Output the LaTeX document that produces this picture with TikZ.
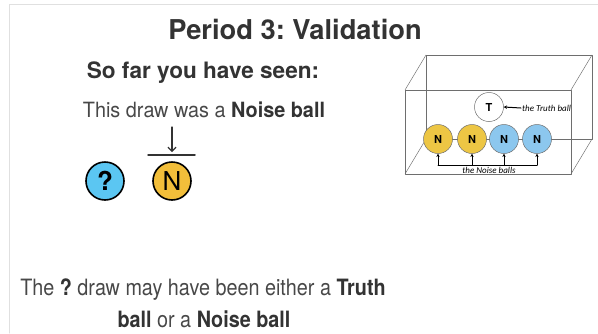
\documentclass[tikz,border=0pt]{standalone}
\usepackage{fontspec}
\setmainfont{TeX Gyre Heros}
\newfontfamily\labelfont{Carlito}
\usetikzlibrary{arrows.meta,positioning}
\frenchspacing
\definecolor{ink}{HTML}{333333}
\definecolor{lightink}{HTML}{484848}
\definecolor{qblue}{HTML}{5BC6F2}
\definecolor{ngold}{HTML}{F2BE3A}
\definecolor{nyellow}{HTML}{EDC644}
\definecolor{nblue}{HTML}{8CC7EE}
\definecolor{wiregray}{HTML}{6E6E6E}
\definecolor{framegray}{HTML}{E0E0E0}
\tikzset{
    every picture/.style={line cap=round,line join=round},
    bigball/.style={draw=black,circle,line width=1.6pt,minimum size=38pt,
      inner sep=0pt,font=\fontsize{26}{26}\selectfont},
    smallball/.style={draw=wiregray,circle,line width=0.5pt,minimum size=29pt,
      inner sep=0pt,font=\bfseries\fontsize{11}{11}\selectfont},
    boxlabel/.style={font=\labelfont\itshape\fontsize{9}{9}\selectfont,
      text=black,inner sep=1pt},
    wire/.style={draw=wiregray,line width=0.5pt},
    pointer/.style={-{Stealth[length=3.2pt,width=3.4pt]},line width=1pt},
    bodytext/.style={text=lightink,inner sep=0pt,anchor=base}
}
\begin{document}
\begin{tikzpicture}[x=1pt,y=-1pt]
  \useasboundingbox (0,0) rectangle (598,333);
  \draw[framegray,line width=1pt] (9,333) |- (598,4);
  % headings
  \node[bodytext,text=ink,font=\bfseries\fontsize{27.3}{28}\selectfont]
    (title) at (295,39) {Period 3: Validation};
  \node[bodytext,text=ink,font=\bfseries\fontsize{22.6}{23}\selectfont]
    (seen) at (203,78) {So far you have seen:};
  \node[bodytext,font=\fontsize{21}{22}\selectfont]
    (draw) at (204,117) {\scalebox{0.945}[1]{This draw was a \textbf{\color{ink}Noise ball}}};
  % the two draws
  \node[bigball,fill=qblue,font=\bfseries\fontsize{26}{26}\selectfont] (qball) at (105,181) {?};
  \node[bigball,fill=ngold] (nball) at (172,181) {N};
  \coordinate (arrtop) at (172,127);
  \coordinate (barL) at (148,155);
  \coordinate (barR) at (195,155);
  \draw[ink,line width=1.5pt] (barL) -- (barR);
  \draw[ink,line width=1.2pt,-{Straight Barb[length=4pt,width=8pt]},shorten >=3pt]
    (arrtop) -- (arrtop |- barL);
  % the box of balls
  \coordinate (fa) at (405,90);  \coordinate (fb) at (571,90);
  \coordinate (fc) at (571,174); \coordinate (fd) at (405,174);
  \coordinate (ba) at (426,55);  \coordinate (bb) at (592,55);
  \coordinate (bc) at (592,139); \coordinate (bd) at (426,139);
  \draw[wire] (ba) -- (bb) -- (bc) -- (bd) -- cycle;
  \draw[wire] (fa) -- (fb) -- (fc) -- (fd) -- cycle;
  \draw[wire] (fa) -- (ba) (fb) -- (bb) (fc) -- (bc) (fd) -- (bd);
  \node[smallball,fill=nyellow] (n1) at (438,139) {N};
  \node[smallball,fill=nyellow] (n2) at (472,139) {N};
  \node[smallball,fill=nblue] (n3) at (504,139) {N};
  \node[smallball,fill=nblue] (n4) at (537,139) {N};
  \node[smallball,fill=white] (tball) at (489,107) {T};
  \node[boxlabel,anchor=west] (tlabel) at (521,108) {the Truth ball};
  \draw[pointer] (tlabel.west) -- (tball.east);
  \coordinate (noisebar) at (488,165);
  \draw[line width=1pt] (n1 |- noisebar) -- (n4 |- noisebar);
  \foreach \b in {n1,n2,n3,n4}
    \draw[pointer] (\b |- noisebar) -- (\b.south);
  \node[boxlabel] (nlabel) at (489,170) {the Noise balls};
  % the question
  \node[bodytext,font=\fontsize{22.5}{24}\selectfont]
    (askA) at (203,295) {\scalebox{0.88}[1]{The \textbf{\color{ink}?} draw may have been either a \textbf{\color{ink}Truth}}};
  \node[bodytext,font=\fontsize{22.5}{24}\selectfont]
    (askB) at (204,327) {\scalebox{0.88}[1]{\textbf{\color{ink}ball} or a \textbf{\color{ink}Noise ball}}};
\end{tikzpicture}
\end{document}
